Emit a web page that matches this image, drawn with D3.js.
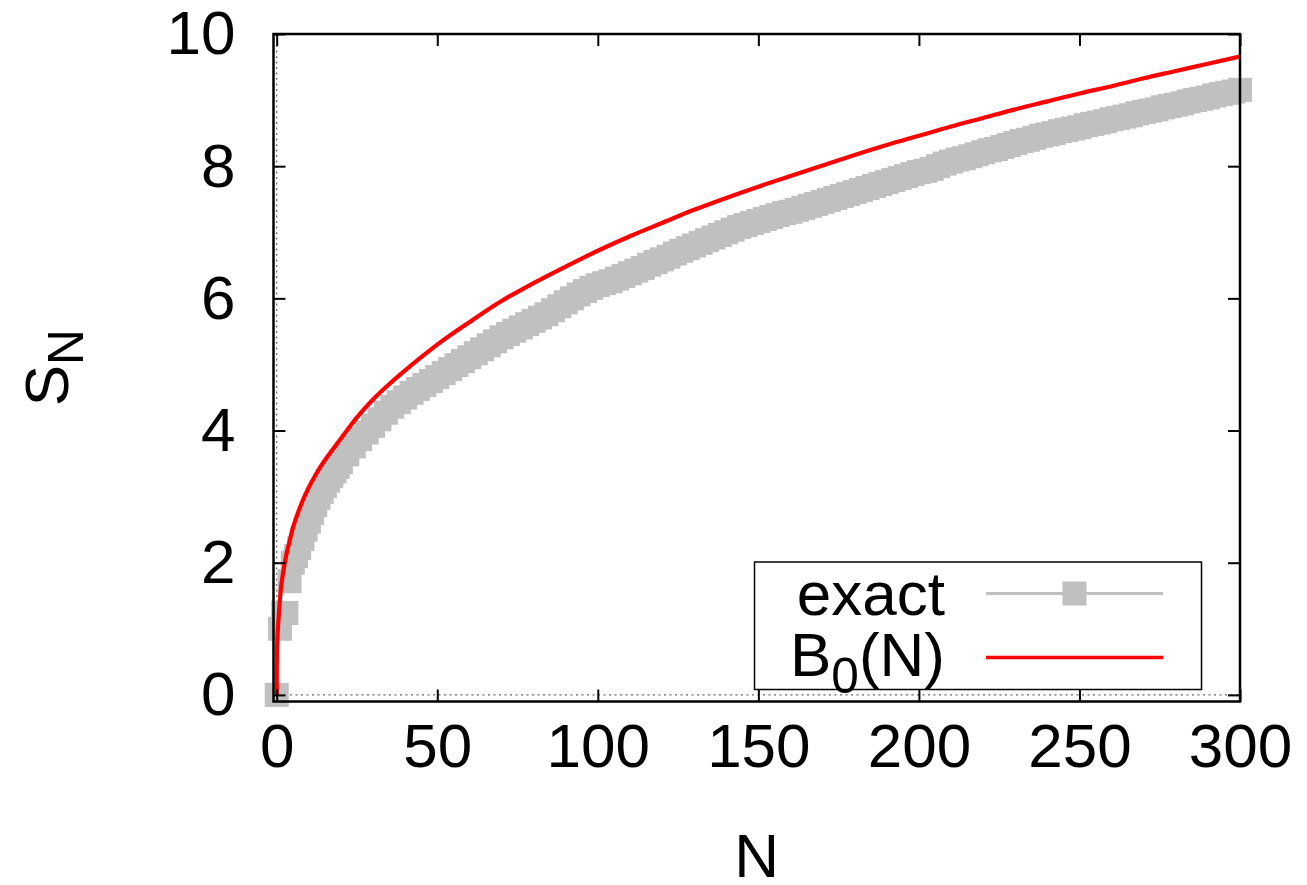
<!DOCTYPE html>
<html>
<head>
<meta charset="utf-8">
<script src="https://cdn.jsdelivr.net/npm/d3@7"></script>
<style>
  html, body { margin: 0; padding: 0; background: #ffffff; }
  svg { display: block; }
  text { font-family: "Liberation Sans", Arial, Helvetica, sans-serif; fill: #000; }
</style>
</head>
<body>
<svg id="chart" width="1307" height="885"></svg>
<script>
// ---- data ----
const xTicks = [0, 50, 100, 150, 200, 250, 300];
const yTicks = [0, 2, 4, 6, 8, 10];

const exactN = [0, 1, 2, 3, 4, 5, 6, 7, 8, 9, 10, 11, 12, 13, 14, 15, 16, 17, 18, 19, 20,
  22, 24, 26, 28, 30, 32, 34, 36, 38, 40, 42, 44, 46, 48, 50, 52, 54, 56, 58, 60,
  62, 64, 66, 68, 70, 72, 74, 76, 78, 80, 82, 84, 86, 88, 90, 92, 94, 96, 98, 100,
  102, 104, 106, 108, 110, 112, 114, 116, 118, 120, 122, 124, 126, 128, 130, 132, 134, 136, 138, 140,
  142, 144, 146, 148, 150, 152, 154, 156, 158, 160, 162, 164, 166, 168, 170, 172, 174, 176, 178, 180,
  182, 184, 186, 188, 190, 192, 194, 196, 198, 200, 202, 204, 206, 208, 210, 212, 214, 216, 218, 220,
  222, 224, 226, 228, 230, 232, 234, 236, 238, 240, 242, 244, 246, 248, 250, 252, 254, 256, 258, 260,
  262, 264, 266, 268, 270, 272, 274, 276, 278, 280, 282, 284, 286, 288, 290, 292, 294, 296, 298, 300];
const exactS = [0, 1.00, 1.24, 1.24, 1.72, 2.00, 2.10, 2.22, 2.36, 2.50, 2.62, 2.75, 2.87, 2.98, 3.07, 3.16, 3.24, 3.31, 3.38, 3.45, 3.52,
  3.64, 3.76, 3.87, 3.97, 4.07, 4.17, 4.27, 4.36, 4.43, 4.50, 4.57, 4.63, 4.69, 4.75, 4.81, 4.87, 4.93, 4.99, 5.05, 5.11,
  5.17, 5.23, 5.29, 5.35, 5.41, 5.46, 5.51, 5.56, 5.61, 5.66, 5.71, 5.76, 5.82, 5.88, 5.94, 6.00, 6.06, 6.11, 6.16, 6.20,
  6.23, 6.26, 6.30, 6.34, 6.38, 6.42, 6.46, 6.51, 6.55, 6.59, 6.63, 6.68, 6.72, 6.76, 6.80, 6.84, 6.88, 6.92, 6.96, 7.00,
  7.04, 7.08, 7.11, 7.14, 7.17, 7.20, 7.23, 7.26, 7.29, 7.31, 7.34, 7.37, 7.40, 7.43, 7.46, 7.49, 7.52, 7.55, 7.58, 7.61,
  7.64, 7.67, 7.70, 7.73, 7.76, 7.79, 7.82, 7.85, 7.88, 7.91, 7.93, 7.96, 8.00, 8.04, 8.07, 8.10, 8.12, 8.15, 8.18, 8.21,
  8.24, 8.26, 8.29, 8.32, 8.35, 8.38, 8.40, 8.43, 8.46, 8.48, 8.50, 8.53, 8.55, 8.57, 8.59, 8.62, 8.64, 8.66, 8.68, 8.71,
  8.73, 8.75, 8.77, 8.80, 8.82, 8.84, 8.86, 8.89, 8.91, 8.93, 8.95, 8.98, 9.00, 9.02, 9.04, 9.07, 9.09, 9.11, 9.13, 9.155];

const b0N = [0, 0.02, 0.1, 0.25, 0.5, 1, 1.5, 2, 3, 4, 5, 6, 8, 10, 12, 14, 16, 18, 20, 25, 30, 35, 40, 45, 50,
  60, 70, 80, 90, 100, 110, 120, 130, 140, 150, 160, 170, 180, 190, 200,
  210, 220, 230, 240, 250, 260, 270, 280, 290, 300];
const b0S = [0, 0.40, 0.68, 0.90, 1.10, 1.45, 1.68, 1.85, 2.12, 2.32, 2.52, 2.67, 2.93, 3.14, 3.32, 3.48, 3.62, 3.75, 3.88, 4.20, 4.47, 4.70, 4.91, 5.11, 5.30,
  5.64, 5.96, 6.23, 6.48, 6.72, 6.94, 7.14, 7.34, 7.52, 7.69, 7.85, 8.01, 8.17, 8.32, 8.46,
  8.60, 8.73, 8.86, 8.98, 9.10, 9.21, 9.33, 9.44, 9.55, 9.66];

const seriesNames = ["exact", "B"];

// ---- layout ----
const FONT = 62;
const plot = { left: 273.5, right: 1240, top: 34, bottom: 701.5 };
const svg = d3.select("#chart");

const x = d3.scaleLinear().domain([-1, 300]).range([plot.left, plot.right]);
const y = d3.scaleLinear().domain([-0.1, 10]).range([plot.bottom, plot.top]);

// zero axes (dotted)
svg.append("line")
  .attr("x1", x(0)).attr("x2", x(0)).attr("y1", plot.top).attr("y2", plot.bottom)
  .attr("stroke", "#666").attr("stroke-width", 1.2).attr("stroke-dasharray", "2,3.5");
svg.append("line")
  .attr("x1", plot.left).attr("x2", plot.right).attr("y1", y(0)).attr("y2", y(0))
  .attr("stroke", "#666").attr("stroke-width", 1.2).attr("stroke-dasharray", "2,3.5");

// exact: gray squares
const SQ = 24;
const exactData = exactN.map((n, i) => ({ n, s: exactS[i] }));
svg.append("g").selectAll("rect").data(exactData).join("rect")
  .attr("x", d => x(d.n) - SQ / 2)
  .attr("y", d => y(d.s) - SQ / 2)
  .attr("width", SQ).attr("height", SQ)
  .attr("fill", "#c0c0c0");

// B0(N): red line
const b0Data = b0N.map((n, i) => ({ n, s: b0S[i] }));
const line = d3.line().x(d => x(d.n)).y(d => y(d.s)).curve(d3.curveMonotoneX);
svg.append("path").datum(b0Data)
  .attr("d", line)
  .attr("fill", "none").attr("stroke", "#ff0000").attr("stroke-width", 4.2)
  .attr("stroke-linejoin", "round");

// axes with ticks (inward), mirrored
const TL = 12;
const axB = svg.append("g").attr("transform", `translate(0,${plot.bottom})`)
  .call(d3.axisBottom(x).tickValues(xTicks).tickSize(-TL).tickPadding(TL + 9).tickFormat(d3.format("d")));
const axT = svg.append("g").attr("transform", `translate(0,${plot.top})`)
  .call(d3.axisTop(x).tickValues(xTicks).tickSize(-TL).tickFormat(""));
const axL = svg.append("g").attr("transform", `translate(${plot.left},0)`)
  .call(d3.axisLeft(y).tickValues(yTicks).tickSize(-TL).tickPadding(TL + 26).tickFormat(d3.format("d")));
const axR = svg.append("g").attr("transform", `translate(${plot.right},0)`)
  .call(d3.axisRight(y).tickValues(yTicks).tickSize(-TL).tickFormat(""));

[axB, axT, axL, axR].forEach(a => {
  a.select(".domain").remove();
  a.selectAll(".tick line").attr("stroke", "#000").attr("stroke-width", 2);
  a.selectAll("text").attr("font-size", FONT)
    .style("font-family", '"Liberation Sans", Arial, Helvetica, sans-serif').attr("fill", "#000");
});
axB.selectAll("text").attr("dy", "0.71em");

// border on top
svg.append("rect")
  .attr("x", plot.left).attr("y", plot.top)
  .attr("width", plot.right - plot.left).attr("height", plot.bottom - plot.top)
  .attr("fill", "none").attr("stroke", "#000").attr("stroke-width", 2.5);

// axis titles
svg.append("text")
  .attr("x", (plot.left + plot.right) / 2).attr("y", 877)
  .attr("text-anchor", "middle").attr("font-size", FONT).text("N");

const yl = svg.append("text")
  .attr("transform", `translate(68,${(plot.top + plot.bottom) / 2}) rotate(-90)`)
  .attr("text-anchor", "middle").attr("font-size", FONT);
yl.append("tspan").text("S");
yl.append("tspan").attr("font-size", FONT * 0.8).attr("dy", "0.3em").text("N");

// legend
const lg = { x0: 754.5, x1: 1201.5, y0: 562, y1: 689.5 };
svg.append("rect")
  .attr("x", lg.x0).attr("y", lg.y0).attr("width", lg.x1 - lg.x0).attr("height", lg.y1 - lg.y0)
  .attr("fill", "#fff").attr("stroke", "#000").attr("stroke-width", 1.5);
const rowY = [593.5, 657.5];
const sampleX = [986, 1163];
const textX = 945;

// row 1: exact
svg.append("text").attr("x", textX).attr("y", rowY[0] + 21).attr("text-anchor", "end")
  .attr("font-size", FONT).text(seriesNames[0]);
svg.append("line").attr("x1", sampleX[0]).attr("x2", sampleX[1]).attr("y1", rowY[0]).attr("y2", rowY[0])
  .attr("stroke", "#c0c0c0").attr("stroke-width", 3);
svg.append("rect").attr("x", (sampleX[0] + sampleX[1]) / 2 - SQ / 2).attr("y", rowY[0] - SQ / 2)
  .attr("width", SQ).attr("height", SQ).attr("fill", "#c0c0c0");

// row 2: B0(N)
const t2 = svg.append("text").attr("x", textX).attr("y", rowY[1] + 18).attr("text-anchor", "end")
  .attr("font-size", FONT);
t2.append("tspan").text(seriesNames[1]);
t2.append("tspan").attr("font-size", FONT * 0.8).attr("dy", 17).text("0");
t2.append("tspan").attr("dy", -17).text("(N)");
svg.append("line").attr("x1", sampleX[0]).attr("x2", sampleX[1]).attr("y1", rowY[1]).attr("y2", rowY[1])
  .attr("stroke", "#ff0000").attr("stroke-width", 3.6);
</script>
</body>
</html>
